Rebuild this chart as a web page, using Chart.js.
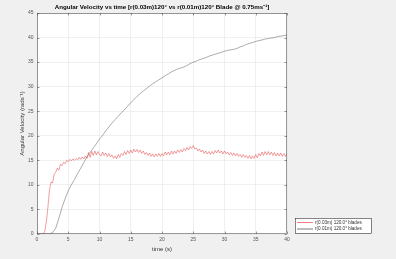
<!DOCTYPE html>
<html>
<head>
<meta charset="utf-8">
<script src="https://cdn.jsdelivr.net/npm/chart.js@4"></script>
<style>
html,body{margin:0;padding:0;background:#f0f0f0;}
canvas{display:block;}
</style>
</head>
<body>
<canvas id="c" width="396" height="259"></canvas>
<script>
// ---- data ----
const titleText = "Angular Velocity vs time [r(0.03m)120\u00b0 vs r(0.01m)120\u00b0 Blade @ 0.75ms\u207b\u00b9]";
const xTitle = "time (s)";
const yTitle = "Angular Velocity (rads\u207b\u00b9)";
const seriesNames = ["r(0.03m) 120.0\u00b0 blades", "r(0.01m) 120.0\u00b0 blades"];
const xTicks = [0, 5, 10, 15, 20, 25, 30, 35, 40];
const yTicks = [0, 5, 10, 15, 20, 25, 30, 35, 40, 45];
const redStep = 0.25;   // sampling interval of red series (s)
const blackStep = 0.5;  // sampling interval of black series (s)
const redVel = [
 0,0,0,0,0, 0.6,2.5,5.5,9.0, 10.6,10.4,12.2,12.6, 13.4,13.0,14.2,13.9, 14.6,14.3,15.0,14.7,
 15.2,14.9,15.3,15.0, 15.4,15.1,15.6,15.2, 15.7,15.3,15.9,15.4, 16.6,15.6,16.8,16.0, 16.9,16.1,16.8,16.2,
 15.9,16.7,16.0,
 16.5,15.8,16.4,15.7, 16.1,15.4,15.9,15.3, 16.2,15.6,16.4,16.0, 16.8,16.2,17.0,16.4,
 17.1,16.5,17.3,16.7, 17.2,16.6,17.1,16.4, 16.9,16.2,16.6,16.0, 16.5,15.8,16.3,15.7,
 16.3,15.8,16.4,15.8, 16.4,15.9,16.7,16.1, 16.7,16.1,16.9,16.3, 16.9,16.4,17.1,16.6,
 17.2,16.7,17.4,17.0, 17.6,17.1,17.8,17.4, 18.0,17.3,17.5,16.9, 17.3,16.7,17.1,16.4,
 16.9,16.3,16.8,16.2, 16.8,16.3,17.0,16.5, 17.1,16.5,16.9,16.3, 16.9,16.3,16.7,16.1,
 16.6,16.0,16.5,15.9, 16.4,15.8,16.2,15.6, 16.2,15.6,16.0,15.4, 16.0,15.3,15.9,15.4,
 16.2,15.5,16.4,15.9, 16.7,16.0,16.8,16.1, 16.8,16.1,16.7,16.0, 16.6,15.9,16.5,15.9,
 16.5,15.8,16.4,15.8, 16.3
];
const blackVel = [
 0,0,0,0,0,0.3,1.2,3.2,5.4,7.2,8.8,10.0,11.1,12.3,13.4,14.6,15.7,16.6,17.5,18.4,
 19.3,20.1,21.0,21.8,22.6,23.3,24.0,24.7,25.3,26.0,26.7,27.4,28.0,28.6,29.1,29.6,
 30.1,30.6,31.0,31.4,31.8,32.2,32.6,33.0,33.3,33.6,33.8,34.0,34.3,34.7,35.0,35.2,
 35.5,35.7,35.9,36.2,36.4,36.6,36.8,37.0,37.2,37.4,37.5,37.6,37.8,38.1,38.3,38.6,
 38.8,39.0,39.2,39.4,39.5,39.7,39.8,39.9,40.0,40.2,40.3,40.4,40.5
];

const redPts = redVel.map((v, i) => ({x: i * redStep, y: v}));
const blackPts = blackVel.map((v, i) => ({x: i * blackStep, y: v}));

const FONT = "'Liberation Sans', Arial, sans-serif";

const decor = {
  id: 'decor',
  beforeDraw(chart) {
    const {ctx, chartArea: a} = chart;
    ctx.save();
    ctx.fillStyle = '#f0f0f0';
    ctx.fillRect(0, 0, chart.width, chart.height);
    ctx.fillStyle = '#ffffff';
    ctx.fillRect(a.left, a.top, a.right - a.left, a.bottom - a.top);
    ctx.restore();
  },
  afterDatasetsDraw(chart) {
    const {ctx, chartArea: a, scales} = chart;
    ctx.save();
    // axes box
    ctx.strokeStyle = '#555';
    ctx.lineWidth = 0.6;
    ctx.strokeRect(a.left + 0.5, a.top + 0.5, a.right - a.left - 1, a.bottom - a.top - 1);
    // inward ticks
    ctx.beginPath();
    xTicks.forEach(t => {
      const x = Math.round(scales.x.getPixelForValue(t)) + 0.5;
      ctx.moveTo(x, a.bottom); ctx.lineTo(x, a.bottom - 2.5);
      ctx.moveTo(x, a.top); ctx.lineTo(x, a.top + 2.5);
    });
    yTicks.forEach(t => {
      const y = Math.round(scales.y.getPixelForValue(t)) + 0.5;
      ctx.moveTo(a.left, y); ctx.lineTo(a.left + 2.5, y);
      ctx.moveTo(a.right, y); ctx.lineTo(a.right - 2.5, y);
    });
    ctx.stroke();
    // title
    ctx.fillStyle = '#000';
    ctx.textAlign = 'center';
    ctx.textBaseline = 'middle';
    ctx.font = 'bold 6.2px ' + FONT;
    ctx.fillText(titleText, (a.left + a.right) / 2, 7.5);
    // x title
    ctx.fillStyle = '#333';
    ctx.font = '6px ' + FONT;
    ctx.fillText(xTitle, (a.left + a.right) / 2, 249);
    // y title
    ctx.save();
    ctx.translate(22, (a.top + a.bottom) / 2);
    ctx.rotate(-Math.PI / 2);
    ctx.fillText(yTitle, 0, 0);
    ctx.restore();
    // legend
    const lx = 295, ly = 218, lw = 76, lh = 15;
    ctx.fillStyle = '#fff';
    ctx.fillRect(lx, ly, lw, lh);
    ctx.strokeStyle = '#333';
    ctx.lineWidth = 0.6;
    ctx.strokeRect(lx + 0.5, ly + 0.5, lw, lh);
    chart.data.datasets.forEach((ds, i) => {
      const yy = ly + 4.5 + i * 6.5;
      ctx.strokeStyle = ds.borderColor;
      ctx.lineWidth = 0.8;
      ctx.beginPath(); ctx.moveTo(lx + 2, yy); ctx.lineTo(lx + 18, yy); ctx.stroke();
      ctx.fillStyle = '#333';
      ctx.textAlign = 'left';
      ctx.font = '4.6px ' + FONT;
      ctx.fillText(ds.label, lx + 20, yy);
    });
    ctx.restore();
  }
};

new Chart(document.getElementById('c'), {
  type: 'line',
  data: {
    datasets: [
      {label: seriesNames[0], data: redPts, borderColor: 'rgba(225,40,40,0.75)', borderWidth: 0.6, pointRadius: 0, tension: 0},
      {label: seriesNames[1], data: blackPts, borderColor: 'rgba(20,20,20,0.7)', borderWidth: 0.5, pointRadius: 0, tension: 0}
    ]
  },
  options: {
    responsive: false,
    animation: false,
    devicePixelRatio: 1,
    layout: {padding: {left: 0, right: 109, top: 13, bottom: 0}},
    plugins: {legend: {display: false}, title: {display: false}, tooltip: {enabled: false}},
    scales: {
      x: {
        type: 'linear', min: 0, max: 40,
        afterFit(s) { s.height = 25; },
        afterBuildTicks(s) { s.ticks = xTicks.map(v => ({value: v})); },
        grid: {color: '#e6e6e6', lineWidth: 0.6, drawTicks: false},
        border: {display: false},
        ticks: {padding: 3, color: '#555', font: {size: 5, family: FONT}, maxRotation: 0}
      },
      y: {
        type: 'linear', min: 0, max: 45,
        afterFit(s) { s.width = 37; },
        afterBuildTicks(s) { s.ticks = yTicks.map(v => ({value: v})); },
        grid: {color: '#e6e6e6', lineWidth: 0.6, drawTicks: false},
        border: {display: false},
        ticks: {padding: 3.5, color: '#555', font: {size: 5, family: FONT}}
      }
    }
  },
  plugins: [decor]
});
</script>
</body>
</html>
